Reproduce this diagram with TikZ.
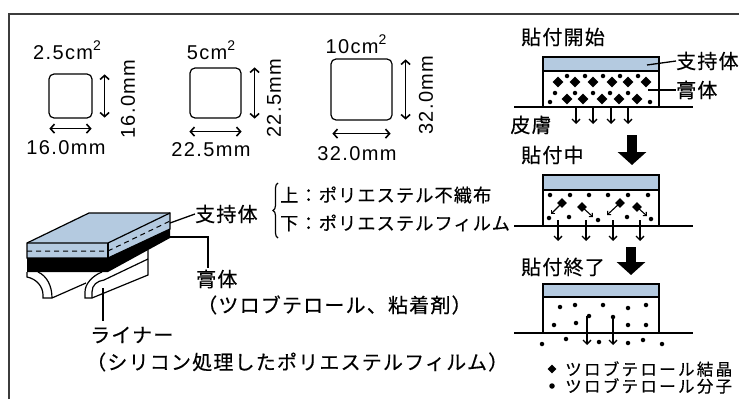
\documentclass[tikz,border=0pt]{standalone}
\usepackage{fontspec}
\setmainfont{Liberation Sans}[LetterSpace=7]
\newfontfamily\jpfont{Noto Sans CJK JP}[LetterSpace=6, FakeBold=0.4]
\newfontfamily\jpkey{Noto Sans CJK JP}[LetterSpace=14, FakeBold=0.4]
\usetikzlibrary{arrows.meta,shapes.geometric,decorations.pathreplacing}

\definecolor{filmblue}{RGB}{180,202,224}
\definecolor{framegray}{RGB}{60,60,60}

\newcommand{\sqcm}{cm\raisebox{0.42em}{\fontsize{14}{14}\selectfont 2}}

\tikzset{
  dimtext/.style={font=\fontsize{20}{22}\selectfont, inner sep=0},
  jp/.style={font=\jpfont\fontsize{20}{22}\selectfont, inner sep=0},
  jpsmall/.style={font=\jpfont\fontsize{18.2}{20}\selectfont, inner sep=0},
  keytext/.style={font=\jpkey\fontsize{16.5}{18}\selectfont, inner sep=0},
  sizebox/.style={draw, line width=1.2pt, rounded corners=5pt, inner sep=0},
  dimarrow/.style={{Straight Barb[length=4pt,width=9pt]}-{Straight Barb[length=4pt,width=9pt]}, line width=1.6pt},
  flow/.style={-{Straight Barb[length=4pt,width=8pt]}, line width=1.3pt},
  tiny/.style={-{Straight Barb[length=2.5pt,width=5pt]}, line width=1.1pt},
  bigarrow/.style={line width=10pt, -{Triangle[length=13pt,width=28pt]}},
  layer/.style={draw, line width=1.8pt},
  skin/.style={line width=1.2pt},
  leader/.style={line width=1.3pt},
  mol/.style={circle, fill, inner sep=0, minimum size=4.5pt},
  crystal/.style={diamond, fill, inner sep=0, minimum size=11pt},
}

\begin{document}
\begin{tikzpicture}[x=1pt, y=-1pt]
  \useasboundingbox (0,0) rectangle (739,399);
  \draw[framegray, line width=2pt] (9,399) -- (9,14) -- (739,14);

  % three patch sizes
  \node[sizebox, minimum width=43pt, minimum height=44pt] (sq1) at (70.5,96) {};
  \node[dimtext, anchor=base] (area1) at (67,59) {2.5\sqcm};
  \draw[dimarrow] ([xshift=12pt,yshift=-1pt]sq1.north east) -- ([xshift=12pt,yshift=1pt]sq1.south east);
  \node[dimtext, rotate=90] (side1) at (128,99) {16.0mm};
  \draw[dimarrow] ([xshift=1pt,yshift=-10pt]sq1.south west) -- ([xshift=-1pt,yshift=-10pt]sq1.south east);
  \node[dimtext, anchor=base] (wide1) at (66,154) {16.0mm};

  \node[sizebox, minimum width=51pt, minimum height=50pt] (sq2) at (215.5,93) {};
  \node[dimtext, anchor=base] (area2) at (211,59) {5\sqcm};
  \draw[dimarrow] ([xshift=13pt]sq2.north east) -- ([xshift=13pt]sq2.south east);
  \node[dimtext, rotate=90] (side2) at (274,98) {22.5mm};
  \draw[dimarrow] ([yshift=-13pt]sq2.south west) -- ([yshift=-13pt]sq2.south east);
  \node[dimtext, anchor=base] (wide2) at (211,156) {22.5mm};

  \node[sizebox, minimum width=61pt, minimum height=61pt] (sq3) at (361.5,89.5) {};
  \node[dimtext, anchor=base] (area3) at (356,53) {10\sqcm};
  \draw[dimarrow] ([xshift=13pt,yshift=-1pt]sq3.north east) -- ([xshift=13pt,yshift=1pt]sq3.south east);
  \node[dimtext, rotate=90] (side3) at (426,95) {32.0mm};
  \draw[dimarrow] ([xshift=2pt,yshift=-13pt]sq3.south west) -- ([xshift=-2pt,yshift=-13pt]sq3.south east);
  \node[dimtext, anchor=base] (wide3) at (357,160) {32.0mm};

  % patch in perspective
  \draw[line width=1.2pt, fill=filmblue] (27,243) -- (89,213) -- (170,213) -- (170,229) -- (108,258) -- (27,258) -- cycle;
  \draw[line width=1.2pt] (27,243) -- (108,243) -- (170,213);
  \draw[line width=1.2pt] (108,243) -- (108,258);
  \draw[line width=1pt, dash pattern=on 5pt off 4pt] (27,251) -- (108,251) -- (170,221);
  \fill (27,258) -- (108,258) -- (170,229) -- (170,238) -- (108,272) -- (27,272) -- cycle;
  \draw[line width=1.2pt] (27,272) -- (27,277) .. controls (37,279) and (43,287) .. (43,295) -- (43,298) -- (52,298) -- (86,283);
  \draw[line width=1.2pt] (38,272) .. controls (47,276) and (52,286) .. (52,298);
  \draw[line width=1.2pt] (102,272) .. controls (92,276) and (85,284) .. (85,292) -- (85,298) -- (92,298) -- (148,275) -- (148,250);
  \draw[line width=1.2pt] (92,298) -- (92,292) .. controls (92,285) and (97,281) .. (104,280) -- (148,259);

  \node[jp, anchor=west] (support) at (195,214) {支持体};
  \draw[leader] (170,223) -- (support.west);
  \draw[decorate, decoration={brace, amplitude=5pt}, line width=1.2pt] (278,238) -- (278,183);
  \node[jpsmall, anchor=west] (upper) at (280,195) {上：ポリエステル不織布};
  \node[jpsmall, anchor=west] (lower) at (280,223) {下：ポリエステルフィルム};

  \node[jp, anchor=west] (matrix) at (196,279) {膏体};
  \draw[leader] (170,237) -- (208,237) -- ([xshift=12pt,yshift=2pt]matrix.north west);
  \node[jp, anchor=west] (matrixnote) at (197,305) {（ツロブテロール、粘着剤）};

  \coordinate (linertab) at (103,288);
  \node[jp, anchor=west] (liner) at (90,335) {ライナー};
  \draw[leader] (linertab) -- (103,321);
  \node[jp, anchor=west] (linernote) at (86,362) {（シリコン処理したポリエステルフィルム）};

  % start of application
  \node[jp, anchor=west] (stage1) at (521,37) {貼付開始};
  \draw[skin] (514,107) -- (693,107);
  \draw[layer, fill=white] (543,57) rectangle (659,107);
  \draw[layer, fill=filmblue] (543,57) rectangle (659,71);
  \foreach \x in {558,575,593,612,628,646} \node[crystal] at (\x,82) {};
  \foreach \x in {567,583,602,619,637} \node[crystal] at (\x,99) {};
  \foreach \x in {567,585,603,620,638} \node[mol] at (\x,76) {};
  \foreach \x in {555,575,593,610,628} \node[mol] at (\x,93) {};
  \node[mol] at (550,102) {};
  \node[mol] at (650,102) {};
  \foreach \x in {576,593,611,628} \draw[flow] (\x,107) -- (\x,124);
  \node[jp, anchor=west] (film1) at (676,61) {支持体};
  \draw[leader] (647,65) -- (film1.west);
  \node[jp, anchor=west] (gel1) at (676,90) {膏体};
  \draw[leader] (648,90) -- (gel1.west);
  \node[jp] (skin1) at (531,125) {皮膚};

  \draw[bigarrow] (632,135) -- (632,165);

  % during application
  \node[jp, anchor=west] (stage2) at (521,155) {貼付中};
  \draw[skin] (514,226) -- (693,226);
  \draw[layer, fill=white] (543,175) rectangle (659,226);
  \draw[layer, fill=filmblue] (543,175) rectangle (659,190);
  \foreach \x in {550,570,589,608,628,648} \node[mol] at (\x,195) {};
  \foreach \x/\y/\u/\v in {562/203/551/214, 582/207/593/217, 620/203/607/215, 637/207/647/216} {
    \draw[tiny] (\x,\y) -- (\u,\v);
    \node[crystal, minimum size=10pt] at (\x,\y) {};
  }
  \foreach \x/\y in {549/218, 569/217, 598/220, 627/217, 651/219} \node[mol] at (\x,\y) {};
  \foreach \x in {558,586,613,640} \draw[flow] (\x,220) -- (\x,241);

  \draw[bigarrow] (631,247) -- (631,275);

  % end of application
  \node[jp, anchor=west] (stage3) at (521,267) {貼付終了};
  \draw[skin] (514,333) -- (693,333);
  \draw[layer, fill=white] (543,284) rectangle (659,333);
  \draw[layer, fill=filmblue] (543,284) rectangle (659,297);
  \foreach \x/\y in {560/307, 575/305, 603/305, 628/308, 646/305, 589/316, 613/317, 554/325, 576/323, 628/325, 646/325}
    \node[mol] at (\x,\y) {};
  \foreach \x/\y in {542/344, 566/339, 599/342, 628/343, 643/340, 662/344}
    \node[mol] at (\x,\y) {};
  \foreach \x in {587,613} \draw[flow] (\x,316) -- (\x,345);

  % legend
  \node[crystal, minimum size=9pt] (keyc) at (552,369) {};
  \node[keytext, anchor=west] (keyctext) at (565,369) {ツロブテロール結晶};
  \node[mol, minimum size=5.5pt] (keym) at (552,386) {};
  \node[keytext, anchor=west] (keymtext) at (565,386) {ツロブテロール分子};
\end{tikzpicture}
\end{document}
